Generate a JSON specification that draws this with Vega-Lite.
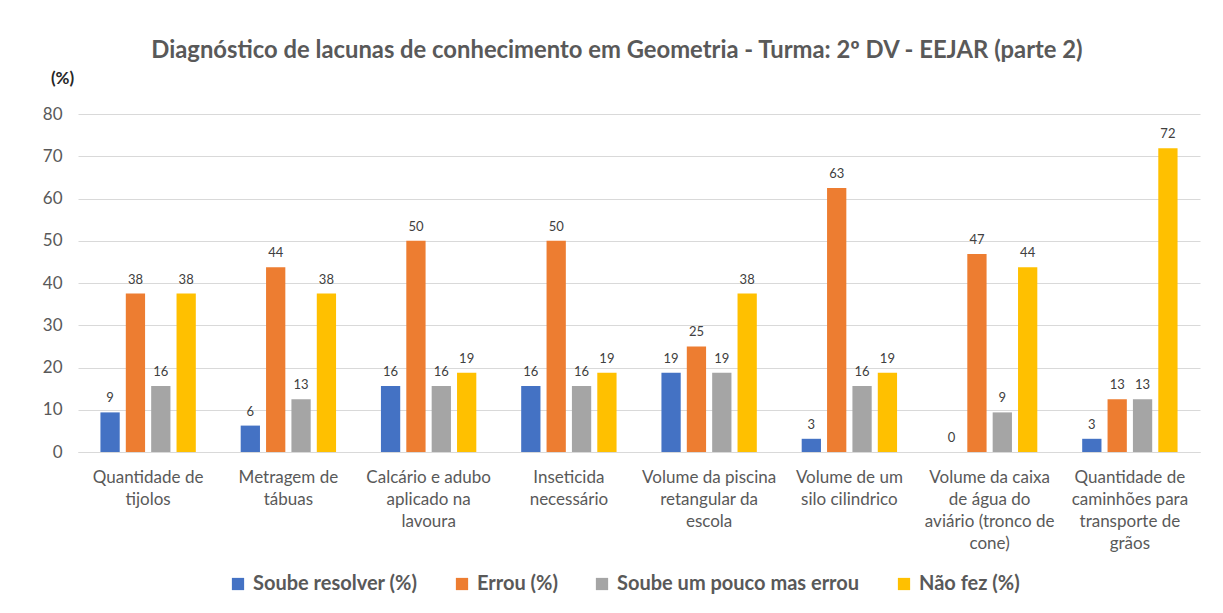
{
  "$schema": "https://vega.github.io/schema/vega-lite/v6.json",
  "autosize": {"type": "none"},
  "width": 1122,
  "height": 338,
  "padding": {"left": 78, "top": 114, "right": 23, "bottom": 161},
  "background": "white",
  "title": {
    "text": "Diagnóstico de lacunas de conhecimento em Geometria  - Turma: 2º DV - EEJAR (parte 2)",
    "fontSize": 23.8,
    "font": "Lato",
    "fontWeight": "bold",
    "color": "#595959",
    "anchor": "middle",
    "dx": -22,
    "offset": 6
  },
  "data": {
    "values": [
      {"cat": "Quantidade de|tijolos", "serie": "Soube resolver (%)", "v": 9.375},
      {"cat": "Quantidade de|tijolos", "serie": "Errou (%)", "v": 37.5},
      {"cat": "Quantidade de|tijolos", "serie": "Soube um pouco mas errou", "v": 15.625},
      {"cat": "Quantidade de|tijolos", "serie": "Não fez (%)", "v": 37.5},
      {"cat": "Metragem de|tábuas", "serie": "Soube resolver (%)", "v": 6.25},
      {"cat": "Metragem de|tábuas", "serie": "Errou (%)", "v": 43.75},
      {"cat": "Metragem de|tábuas", "serie": "Soube um pouco mas errou", "v": 12.5},
      {"cat": "Metragem de|tábuas", "serie": "Não fez (%)", "v": 37.5},
      {"cat": "Calcário e adubo|aplicado na|lavoura", "serie": "Soube resolver (%)", "v": 15.625},
      {"cat": "Calcário e adubo|aplicado na|lavoura", "serie": "Errou (%)", "v": 50},
      {"cat": "Calcário e adubo|aplicado na|lavoura", "serie": "Soube um pouco mas errou", "v": 15.625},
      {"cat": "Calcário e adubo|aplicado na|lavoura", "serie": "Não fez (%)", "v": 18.75},
      {"cat": "Inseticida|necessário", "serie": "Soube resolver (%)", "v": 15.625},
      {"cat": "Inseticida|necessário", "serie": "Errou (%)", "v": 50},
      {"cat": "Inseticida|necessário", "serie": "Soube um pouco mas errou", "v": 15.625},
      {"cat": "Inseticida|necessário", "serie": "Não fez (%)", "v": 18.75},
      {"cat": "Volume da piscina|retangular da|escola", "serie": "Soube resolver (%)", "v": 18.75},
      {"cat": "Volume da piscina|retangular da|escola", "serie": "Errou (%)", "v": 25},
      {"cat": "Volume da piscina|retangular da|escola", "serie": "Soube um pouco mas errou", "v": 18.75},
      {"cat": "Volume da piscina|retangular da|escola", "serie": "Não fez (%)", "v": 37.5},
      {"cat": "Volume de um|silo cilindrico", "serie": "Soube resolver (%)", "v": 3.125},
      {"cat": "Volume de um|silo cilindrico", "serie": "Errou (%)", "v": 62.5},
      {"cat": "Volume de um|silo cilindrico", "serie": "Soube um pouco mas errou", "v": 15.625},
      {"cat": "Volume de um|silo cilindrico", "serie": "Não fez (%)", "v": 18.75},
      {"cat": "Volume da caixa|de água do|aviário (tronco de|cone)", "serie": "Soube resolver (%)", "v": 0},
      {"cat": "Volume da caixa|de água do|aviário (tronco de|cone)", "serie": "Errou (%)", "v": 46.875},
      {"cat": "Volume da caixa|de água do|aviário (tronco de|cone)", "serie": "Soube um pouco mas errou", "v": 9.375},
      {"cat": "Volume da caixa|de água do|aviário (tronco de|cone)", "serie": "Não fez (%)", "v": 43.75},
      {"cat": "Quantidade de|caminhões para|transporte de|grãos", "serie": "Soube resolver (%)", "v": 3.125},
      {"cat": "Quantidade de|caminhões para|transporte de|grãos", "serie": "Errou (%)", "v": 12.5},
      {"cat": "Quantidade de|caminhões para|transporte de|grãos", "serie": "Soube um pouco mas errou", "v": 12.5},
      {"cat": "Quantidade de|caminhões para|transporte de|grãos", "serie": "Não fez (%)", "v": 71.875}
    ]
  },
  "encoding": {
    "x": {
      "field": "cat",
      "type": "nominal",
      "sort": null,
      "scale": {"paddingInner": 0.32, "paddingOuter": 0.16},
      "axis": {
        "title": null,
        "labelAngle": 0,
        "labelExpr": "split(datum.value, '|')",
        "labelFont": "Lato",
        "labelFontSize": 17,
        "labelColor": "#595959",
        "labelLineHeight": 22,
        "labelPadding": 17,
        "labelLimit": 300,
        "ticks": false,
        "domainColor": "#d9d9d9",
        "labelBaseline": "top"
      }
    },
    "xOffset": {
      "field": "serie",
      "type": "nominal",
      "sort": ["Soube resolver (%)", "Errou (%)", "Soube um pouco mas errou", "Não fez (%)"],
      "scale": {"paddingInner": 0.24}
    },
    "y": {
      "field": "v",
      "type": "quantitative",
      "scale": {"domain": [0, 80]},
      "axis": {
        "title": "(%)",
        "titleAngle": 0,
        "titleX": -16,
        "titleY": -27,
        "titleFont": "Lato",
        "titleFontSize": 17,
        "titleFontWeight": "bold",
        "titleColor": "#262626",
        "values": [0, 10, 20, 30, 40, 50, 60, 70, 80],
        "labelFont": "Lato",
        "labelFontSize": 17,
        "labelColor": "#595959",
        "labelPadding": 16,
        "ticks": false,
        "domain": false,
        "gridColor": "#d9d9d9"
      }
    }
  },
  "layer": [
    {
      "mark": {"type": "bar"},
      "encoding": {
        "color": {
          "field": "serie",
          "type": "nominal",
          "sort": ["Soube resolver (%)", "Errou (%)", "Soube um pouco mas errou", "Não fez (%)"],
          "scale": {
            "domain": ["Soube resolver (%)", "Errou (%)", "Soube um pouco mas errou", "Não fez (%)"],
            "range": ["#4472C4", "#ED7D31", "#A5A5A5", "#FFC000"]
          },
          "legend": {
            "title": null,
            "orient": "none",
            "direction": "horizontal",
            "legendX": 150,
            "legendY": 460,
            "symbolType": "square",
            "symbolSize": 150,
            "symbolStrokeWidth": 0,
            "labelFont": "Lato",
            "labelFontSize": 20,
            "labelFontWeight": "bold",
            "labelColor": "#595959",
            "labelLimit": 400,
            "columnPadding": 34,
            "labelOffset": 5
          }
        }
      }
    },
    {
      "mark": {"type": "text", "dy": -14, "font": "Lato", "fontSize": 13, "color": "#404040"},
      "encoding": {
        "text": {"field": "v", "type": "quantitative", "format": ".0f"}
      }
    }
  ],
  "config": {
    "view": {"stroke": null}
  }
}
